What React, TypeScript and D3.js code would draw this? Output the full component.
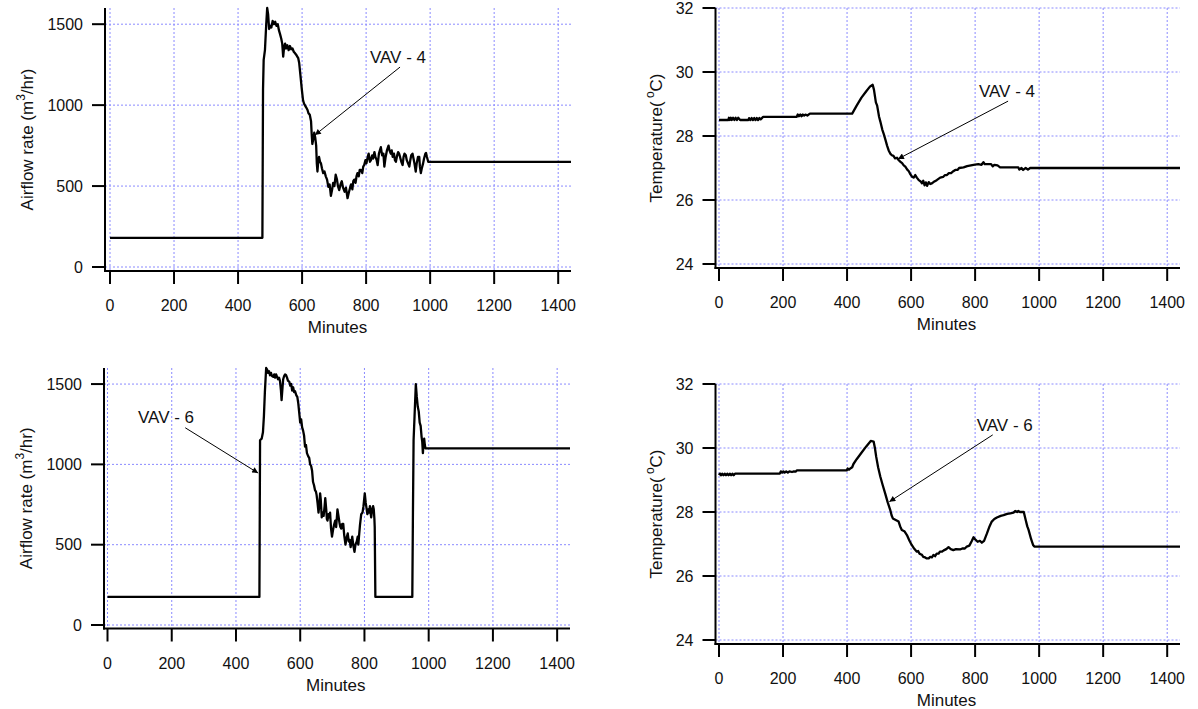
import React from 'react';
import * as d3 from 'd3';

type Pt = [number, number];

// ---------- data ----------
const xTicks = [0, 200, 400, 600, 800, 1000, 1200, 1400];
const airTicks = [0, 500, 1000, 1500];
const tempTicks = [24, 26, 28, 30, 32];
const airDomain: Pt = [0, 1600];
const tempDomain: Pt = [24, 32];
const minuteDomain: Pt = [0, 1440];

const vav4Air: Pt[] = [[0,180],[476,180],[478,1100],[480,1280],[484,1340],[488,1500],[491,1600],[494,1560],[497,1470],[500,1490],[504,1480],[508,1520],[512,1500],[516,1515],[520,1490],[524,1500],[528,1460],[531,1440],[535,1410],[538,1380],[541,1300],[544,1360],[547,1380],[550,1350],[554,1370],[558,1340],[562,1365],[566,1345],[570,1350],[574,1330],[578,1320],[582,1310],[585,1300],[588,1290],[591,1260],[595,1180],[599,1100],[603,1030],[606,1010],[610,995],[613,985],[617,970],[620,950],[624,940],[628,900],[630,820],[632,760],[635,790],[638,830],[641,800],[644,750],[646,640],[648,590],[650,640],[653,680],[656,650],[659,640],[662,610],[666,580],[670,590],[674,560],[678,540],[682,495],[686,510],[690,440],[694,480],[697,520],[701,500],[705,570],[709,540],[712,500],[716,475],[720,510],[724,530],[728,490],[733,465],[737,490],[742,425],[746,460],[750,490],[753,510],[757,480],[760,530],[763,540],[767,520],[770,560],[773,580],[777,560],[780,600],[784,600],[788,580],[791,620],[794,630],[798,660],[801,640],[805,680],[808,700],[812,650],[815,660],[819,690],[822,670],[826,710],[829,680],[833,660],[836,630],[840,700],[843,720],[846,740],[850,690],[854,700],[857,620],[861,680],[865,720],[870,750],[873,720],[877,700],[880,720],[883,680],[887,700],[890,660],[893,650],[897,690],[900,710],[903,700],[906,680],[910,650],[914,630],[917,680],[920,700],[924,690],[927,660],[931,640],[935,620],[938,660],[941,690],[945,700],[948,670],[951,640],[955,590],[958,640],[962,680],[966,680],[968,620],[971,580],[974,610],[978,640],[981,670],[985,700],[987,705],[990,680],[994,650],[1440,650]];

const vav4Temp: Pt[] = [[0,28.5],[29,28.5],[31,28.57],[34,28.5],[37,28.57],[40,28.5],[44,28.57],[48,28.5],[52,28.57],[56,28.5],[60,28.57],[66,28.5],[92,28.5],[94,28.56],[98,28.5],[102,28.56],[106,28.5],[110,28.56],[114,28.5],[118,28.56],[122,28.5],[126,28.56],[130,28.52],[134,28.56],[138,28.6],[243,28.6],[246,28.67],[250,28.62],[254,28.67],[258,28.62],[262,28.67],[266,28.64],[270,28.67],[276,28.64],[284,28.7],[416,28.7],[430,28.95],[445,29.2],[460,29.4],[472,29.55],[480,29.6],[484,29.45],[490,29.05],[494,28.95],[500,28.6],[504,28.45],[510,28.2],[515,28.05],[520,27.88],[525,27.7],[530,27.55],[535,27.45],[540,27.4],[545,27.38],[550,27.3],[556,27.32],[561,27.25],[566,27.2],[572,27.15],[577,27.08],[582,27.04],[588,26.95],[593,26.9],[598,26.8],[603,26.73],[608,26.7],[613,26.78],[618,26.7],[624,26.62],[630,26.58],[634,26.52],[638,26.6],[642,26.46],[646,26.55],[650,26.44],[655,26.56],[660,26.5],[665,26.52],[670,26.56],[680,26.62],[691,26.7],[700,26.72],[706,26.78],[712,26.78],[718,26.84],[725,26.84],[732,26.9],[738,26.94],[745,26.94],[750,27.0],[764,27.02],[775,27.06],[795,27.1],[810,27.12],[820,27.1],[826,27.18],[830,27.12],[850,27.12],[855,27.05],[860,27.1],[870,27.08],[878,27.02],[935,27.02],[938,26.95],[945,27.0],[950,26.94],[958,27.0],[965,26.95],[972,27.0],[1440,27.0]];

const vav6Air: Pt[] = [[0,175],[473,175],[475,1150],[480,1160],[484,1200],[487,1300],[490,1450],[494,1600],[497,1590],[500,1570],[503,1580],[506,1555],[509,1570],[512,1550],[516,1545],[519,1560],[522,1540],[525,1560],[528,1545],[531,1530],[534,1540],[537,1520],[540,1460],[542,1400],[545,1480],[547,1530],[550,1550],[553,1560],[556,1555],[559,1540],[562,1520],[566,1515],[569,1490],[572,1500],[575,1460],[578,1480],[581,1450],[584,1455],[588,1430],[591,1420],[594,1380],[597,1320],[600,1260],[603,1280],[606,1230],[609,1210],[612,1180],[615,1110],[618,1120],[621,1070],[625,1050],[628,1040],[631,1000],[634,990],[637,960],[640,890],[643,870],[646,840],[649,830],[651,810],[654,760],[657,700],[660,760],[662,820],[664,780],[667,670],[670,700],[673,680],[676,740],[678,790],[681,720],[683,660],[685,650],[688,690],[691,670],[693,700],[696,600],[699,550],[702,590],[705,620],[709,650],[712,610],[716,720],[719,680],[722,640],[725,610],[728,600],[731,630],[734,630],[737,560],[741,500],[744,540],[748,570],[751,520],[754,530],[757,485],[760,520],[762,550],[765,500],[769,455],[772,500],[776,520],[779,550],[781,500],[783,550],[786,620],[790,690],[794,700],[797,740],[801,820],[804,760],[807,720],[809,690],[812,720],[815,700],[817,740],[819,700],[821,670],[824,720],[827,740],[829,720],[831,660],[832,610],[834,175],[949,175],[951,700],[953,1150],[956,1300],[960,1500],[963,1420],[966,1360],[969,1330],[972,1260],[975,1240],[978,1170],[980,1140],[982,1070],[984,1140],[986,1160],[988,1120],[990,1100],[1440,1100]];

const vav6Temp: Pt[] = [[0,29.15],[3,29.2],[6,29.15],[10,29.2],[14,29.15],[18,29.2],[22,29.15],[26,29.2],[30,29.15],[34,29.2],[38,29.15],[42,29.2],[46,29.15],[50,29.2],[55,29.2],[190,29.2],[193,29.27],[197,29.23],[201,29.27],[205,29.23],[210,29.27],[215,29.23],[220,29.27],[228,29.25],[234,29.27],[240,29.26],[243,29.3],[399,29.3],[402,29.36],[406,29.32],[410,29.36],[416,29.4],[420,29.5],[430,29.65],[445,29.85],[460,30.05],[474,30.22],[483,30.2],[487,30.0],[491,29.73],[497,29.4],[504,29.1],[511,28.85],[519,28.58],[527,28.3],[535,28.06],[539,27.9],[543,27.8],[552,27.75],[561,27.7],[566,27.55],[571,27.44],[579,27.4],[587,27.28],[595,27.1],[602,26.97],[610,26.85],[618,26.76],[622,26.78],[626,26.7],[630,26.68],[634,26.66],[638,26.6],[644,26.58],[649,26.55],[655,26.55],[660,26.6],[665,26.58],[670,26.66],[675,26.62],[680,26.7],[686,26.7],[690,26.76],[696,26.76],[702,26.8],[710,26.84],[717,26.9],[724,26.84],[732,26.81],[740,26.84],[753,26.83],[760,26.86],[768,26.86],[774,26.92],[782,26.95],[790,27.1],[795,27.21],[800,27.15],[808,27.07],[815,27.1],[821,27.04],[828,27.1],[837,27.33],[845,27.55],[852,27.7],[860,27.78],[868,27.83],[880,27.88],[889,27.9],[900,27.94],[910,27.96],[920,27.98],[925,28.03],[931,28.0],[935,28.03],[940,28.0],[952,28.0],[958,27.75],[963,27.55],[967,27.44],[975,27.15],[981,26.97],[985,26.92],[1440,26.92]];

const labels = ['VAV - 4', 'VAV - 4', 'VAV - 6', 'VAV - 6'];
// annotation anchor points in data units: [textX, textY, arrowFromX, arrowFromY, arrowToX, arrowToY]
const annotAir4 = [812, 1259, 906, 1235, 640, 815];
const annotTemp4 = [812, 29.22, 903, 29.09, 559, 27.28];
const annotAir6 = [95, 1258, 242, 1228, 469, 946];
const annotTemp6 = [805, 30.54, 855, 30.41, 532, 28.32];

// ---------- layout ----------
const FONT = 'Liberation Sans, Arial, Helvetica, sans-serif';
const GRID = '#8a8aff';

type PanelDef = {
  id: string;
  data: Pt[];
  xRange: Pt;
  yRange: Pt;
  yDomain: Pt;
  yTicks: number[];
  axisX: number;
  axisY: number;
  titleOffset: number;
  kind: 'air' | 'temp';
  label: string;
  annot: number[];
};

const panels: PanelDef[] = [
  { id: 'a4', data: vav4Air, xRange: [110, 571], yRange: [267, 8], yDomain: airDomain, yTicks: airTicks, axisX: 105, axisY: 271, titleOffset: 72, kind: 'air', label: labels[0], annot: annotAir4 },
  { id: 't4', data: vav4Temp, xRange: [719, 1180], yRange: [264, 8], yDomain: tempDomain, yTicks: tempTicks, axisX: 715.5, axisY: 268, titleOffset: 54, kind: 'temp', label: labels[1], annot: annotTemp4 },
  { id: 'a6', data: vav6Air, xRange: [107.5, 570], yRange: [625, 368], yDomain: airDomain, yTicks: airTicks, axisX: 104, axisY: 628.5, titleOffset: 72, kind: 'air', label: labels[2], annot: annotAir6 },
  { id: 't6', data: vav6Temp, xRange: [719, 1180], yRange: [640, 384], yDomain: tempDomain, yTicks: tempTicks, axisX: 715.5, axisY: 644, titleOffset: 54, kind: 'temp', label: labels[3], annot: annotTemp6 },
];

function Panel({ p }: { p: PanelDef }) {
  const x = d3.scaleLinear().domain(minuteDomain).range(p.xRange);
  const y = d3.scaleLinear().domain(p.yDomain).range(p.yRange);
  const line = d3.line<Pt>().x(d => x(d[0])).y(d => y(d[1]));
  const top = p.yRange[1];
  const right = x(minuteDomain[1]);
  const cy = (top + p.axisY) / 2;
  const [tx, ty, ax1, ay1, ax2, ay2] = p.annot;
  const tick = 13;
  return (
    <g>
      {/* grid */}
      {xTicks.map(t => (
        <line key={'gx' + t} x1={x(t)} x2={x(t)} y1={top} y2={p.axisY} stroke={GRID} strokeWidth={1} strokeDasharray="2,2" />
      ))}
      {p.yTicks.map(t => (
        <line key={'gy' + t} x1={p.axisX} x2={right} y1={y(t)} y2={y(t)} stroke={GRID} strokeWidth={1} strokeDasharray="2,2" />
      ))}
      {/* data */}
      <path d={line(p.data) || ''} fill="none" stroke="#000" strokeWidth={2.3} strokeLinejoin="round" />
      {/* axes */}
      <line x1={p.axisX} x2={p.axisX} y1={top} y2={p.axisY + 1} stroke="#000" strokeWidth={2} />
      <line x1={p.axisX - 1} x2={right} y1={p.axisY} y2={p.axisY} stroke="#000" strokeWidth={2} />
      {xTicks.map(t => (
        <g key={'xt' + t}>
          <line x1={x(t)} x2={x(t)} y1={p.axisY} y2={p.axisY + tick} stroke="#000" strokeWidth={2} />
          <text x={x(t)} y={p.axisY + 40} textAnchor="middle" fontSize={16} fontFamily={FONT} fill="#111">{t}</text>
        </g>
      ))}
      {p.yTicks.map(t => (
        <g key={'yt' + t}>
          <line x1={p.axisX - tick} x2={p.axisX} y1={y(t)} y2={y(t)} stroke="#000" strokeWidth={2} />
          <text x={p.axisX - 22} y={y(t)} dy="0.36em" textAnchor="end" fontSize={16} fontFamily={FONT} fill="#111">{t}</text>
        </g>
      ))}
      <text x={(p.xRange[0] + right) / 2 - 3} y={p.axisY + 62} textAnchor="middle" fontSize={17} fontFamily={FONT} fill="#111">Minutes</text>
      <text transform={`translate(${p.axisX - p.titleOffset},${cy}) rotate(-90)`} textAnchor="middle" fontSize={17} fontFamily={FONT} fill="#111">
        {p.kind === 'air' ? (
          <>
            <tspan>Airflow rate (m</tspan>
            <tspan dy={-8} fontSize={12}>3</tspan>
            <tspan dy={8}>/hr)</tspan>
          </>
        ) : (
          <>
            <tspan>Temperature(</tspan>
            <tspan dy={-8} fontSize={12}> o</tspan>
            <tspan dy={8}>C)</tspan>
          </>
        )}
      </text>
      {/* annotation */}
      <text x={x(tx)} y={y(ty)} fontSize={17} fontFamily={FONT} fill="#111">{p.label}</text>
      <line x1={x(ax1)} y1={y(ay1)} x2={x(ax2)} y2={y(ay2)} stroke="#000" strokeWidth={1} markerEnd="url(#arrowHead)" />
    </g>
  );
}

export default function App() {
  return (
    <svg width={1198} height={709} style={{ position: 'absolute', left: 0, top: 0, background: '#fff' }}>
      <defs>
        <marker id="arrowHead" viewBox="0 0 10 10" refX={10} refY={5} markerWidth={9} markerHeight={6} markerUnits="userSpaceOnUse" orient="auto">
          <path d="M0,0 L10,5 L0,10 z" fill="#000" />
        </marker>
      </defs>
      <rect x={0} y={0} width={1198} height={709} fill="#fff" />
      {panels.map(p => <Panel key={p.id} p={p} />)}
    </svg>
  );
}
